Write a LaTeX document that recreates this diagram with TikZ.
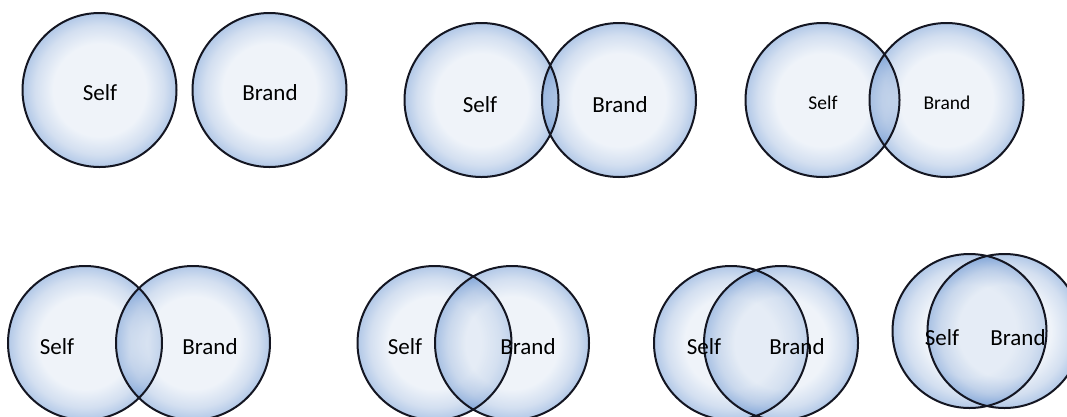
\documentclass[tikz,border=0pt]{standalone}
\usepackage{fontspec}
\setmainfont{Carlito}
\usepackage{tikz}
\definecolor{rimin}{RGB}{215,226,241}
\definecolor{rimmid}{RGB}{145,175,218}
\definecolor{rimout}{RGB}{62,118,196}
\definecolor{rimline}{RGB}{20,22,34}
\pgfdeclareradialshading{rim}{\pgfpoint{0bp}{0bp}}{color(0bp)=(rimin); color(15bp)=(rimin); color(21bp)=(rimmid); color(25bp)=(rimout); color(50bp)=(rimout)}

\begin{document}
\begin{tikzpicture}[x=1pt,y=-1pt,
		venn/.style={shading=rim,fill opacity=0.4},
		ring/.style={draw=rimline,line width=2pt},
		word/.style={font=\fontsize{23}{27}\selectfont,inner sep=0pt},
		smallword/.style={font=\fontsize{19.5}{23}\selectfont,inner sep=0pt}]
	\useasboundingbox (0,0) rectangle (1067,416);
	\clip (0,0) rectangle (1067,416);
	\coordinate (s1) at (99.5,90);
	\coordinate (b1) at (269.5,90);
	\coordinate (s2) at (481.5,100);
	\coordinate (b2) at (619,100);
	\coordinate (s3) at (822.5,100);
	\coordinate (b3) at (946.5,100);
	\coordinate (s4) at (85,343);
	\coordinate (b4) at (193,343);
	\coordinate (s5) at (434.5,343);
	\coordinate (b5) at (512,343);
	\coordinate (s6) at (731,343);
	\coordinate (b6) at (781,343);
	\coordinate (s7) at (969.5,331);
	\coordinate (b7) at (1004.5,331);
	\shade[venn] (s1) circle (77pt);
	\shade[venn] (b1) circle (77pt);
	\shade[venn] (s2) circle (77pt);
	\shade[venn] (b2) circle (77pt);
	\shade[venn] (s3) circle (77pt);
	\shade[venn] (b3) circle (77pt);
	\shade[venn] (s4) circle (77pt);
	\shade[venn] (b4) circle (77pt);
	\shade[venn] (s5) circle (77pt);
	\shade[venn] (b5) circle (77pt);
	\shade[venn] (s6) circle (77pt);
	\shade[venn] (b6) circle (77pt);
	\shade[venn] (s7) circle (77pt);
	\shade[venn] (b7) circle (77pt);
	\draw[ring] (s1) circle (77pt) (b1) circle (77pt);
	\draw[ring] (s2) circle (77pt) (b2) circle (77pt);
	\draw[ring] (s3) circle (77pt) (b3) circle (77pt);
	\draw[ring] (s4) circle (77pt) (b4) circle (77pt);
	\draw[ring] (s5) circle (77pt) (b5) circle (77pt);
	\draw[ring] (s6) circle (77pt) (b6) circle (77pt);
	\draw[ring] (s7) circle (77pt) (b7) circle (77pt);
	\node[word] (self1) at (100,93) {Self};
	\node[word] (brand1) at (270,93) {Brand};
	\node[word] (self2) at (480,105) {Self};
	\node[word] (brand2) at (620,105) {Brand};
	\node[smallword] (self3) at (823,103) {Self};
	\node[smallword] (brand3) at (947,103) {Brand};
	\node[word] (self4) at (57,347) {Self};
	\node[word] (brand4) at (210,347) {Brand};
	\node[word] (self5) at (405,347) {Self};
	\node[word] (brand5) at (528,347) {Brand};
	\node[word] (self6) at (704,347) {Self};
	\node[word] (brand6) at (797,347) {Brand};
	\node[word] (self7) at (942,338) {Self};
	\node[word] (brand7) at (1018,338) {Brand};
\end{tikzpicture}
\end{document}
